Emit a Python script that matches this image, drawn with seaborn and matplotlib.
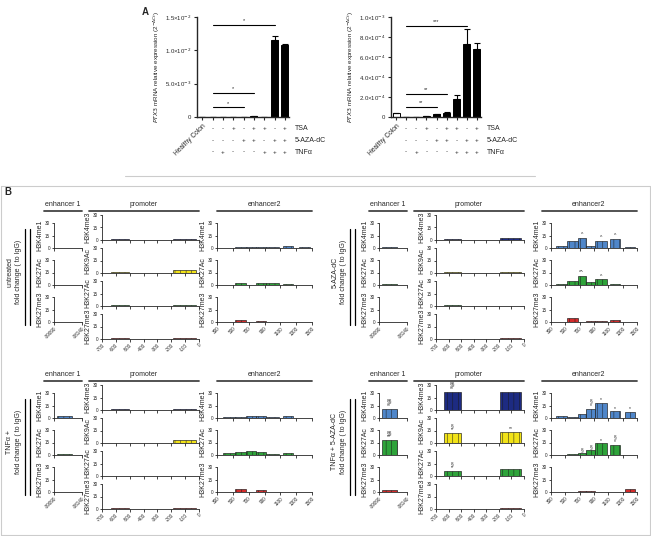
import numpy as np
import pandas as pd
import seaborn as sns
import matplotlib.pyplot as plt
import matplotlib.transforms as mtransforms
from matplotlib.lines import Line2D

sns.set_style('ticks')
plt.rcParams['font.family'] = ['Liberation Sans', 'DejaVu Sans']
plt.rcParams['hatch.linewidth'] = 0.35
plt.rcParams['axes.linewidth'] = 0.6

W, H = 651, 536

# ---------------- panel A data ----------------
groups = ['Healthy Colon', 'ctrl', 'TNFa', 'TSA', 'AZA', 'TSA+AZA', 'TSA+TNFa', 'AZA+TNFa', 'all']
tsa_row = ['-', '-', '+', '-', '+', '+', '-', '+']
aza_row = ['-', '-', '-', '+', '+', '-', '+', '+']
tnf_row = ['-', '+', '-', '-', '-', '+', '+', '+']
row_names = ['TSA', '5-AZA-dC', 'TNFα']

left_vals = [1.0e-5, 2e-5, 3e-5, 2e-5, 6e-5, 8e-5, 4e-5, 1.15e-2, 1.08e-2]
left_err = [0, 0, 0, 0, 0, 0, 0, 0.07e-2, 0.02e-2]
right_vals = [4.0e-5, 0.3e-5, 0.5e-5, 0.6e-5, 3.0e-5, 4.5e-5, 1.77e-4, 7.34e-4, 6.84e-4]
right_err = [0.4e-5, 0, 0, 0, 0.3e-5, 0.3e-5, 0.47e-4, 1.43e-4, 0.6e-4]

sig_left = [(1, 7, 1.38e-2, '*'), (1, 5, 0.365e-2, '*'), (1, 4, 0.146e-2, '*')]
sig_right = [(1, 7, 9.1e-4, '***'), (1, 5, 2.33e-4, '**'), (1, 4, 1.0e-4, '**')]

left_ticks = [0, 5e-3, 1e-2, 1.5e-2]
left_ticklabels = ['0', r'5.0×10$^{-3}$', r'1.0×10$^{-2}$', r'1.5×10$^{-2}$']
right_ticks = [0, 2e-4, 4e-4, 6e-4, 8e-4, 1e-3]
right_ticklabels = ['0', r'2.0×10$^{-4}$', r'4.0×10$^{-4}$', r'6.0×10$^{-4}$',
                    r'8.0×10$^{-4}$', r'1.0×10$^{-3}$']

# ---------------- panel B data ----------------
enh1_marks = ['H3K4me1', 'H3K27Ac', 'H3K27me3']
prom_marks = ['H3K4me3', 'H3K9Ac', 'H3K27Ac', 'H3K27me3']
enh2_marks = ['H3K4me1', 'H3K27Ac', 'H3K27me3']
mark_colors = {'H3K4me1': '#4f86c9', 'H3K4me3': '#1d2b82', 'H3K9Ac': '#f2e318',
               'H3K27Ac': '#2ea33a', 'H3K27me3': '#d42b2b'}

enh1_range = (-39090, -38140)
enh1_left = [-38985]
enh1_right = [-38490]
prom_left = [-635, -190]
prom_right = [-505, -20]
enh2_left = [370, 530, 670, 790, 920, 1130, 1330]
enh2_right = [530, 670, 790, 920, 1080, 1260, 1470]

untreated_enh1 = [0.3, 0.3, 0.2]
untreated_prom = [[1.5, 1.2], [1.0, 4.0], [0.8, 0.8], [1.5, 0.8]]
untreated_enh2 = [[0.5, 1.5, 1.8, 1.5, 0.8, 3.0, 1.5],
                  [0.2, 2.0, 0.3, 2.0, 2.0, 1.2, 0.1],
                  [0.2, 2.5, 0.2, 0.8, 0.3, 0.5, 0.1]]

aza_enh1 = [1.0, 1.0, 0.2]
aza_prom = [[1.0, 2.5], [1.0, 1.5], [1.0, 0.3], [0.5, 1.0]]
aza_enh2 = [[3, 9, 12, 3, 9, 11, 0.7],
            [1, 5, 11, 4, 7, 1.2, 0.3],
            [0.5, 4.5, 0.2, 1.8, 1.8, 2.5, 0.4]]
aza_enh2_sig = [['', '', '^', '', '^', '^', ''],
                ['', '', '^^', '', '^', '', ''],
                [''] * 7]

tnf_enh1 = [2.0, 1.5, 0.2]
tnf_prom = [[0.8, 1.2], [0.3, 4.0], [0.4, 0.5], [0.8, 0.8]]
tnf_enh2 = [[1.8, 0.8, 2.5, 2.5, 1.5, 2.0, 0.2],
            [2.5, 3.5, 4.5, 3.5, 1.5, 2.0, 0.1],
            [0.3, 3.5, 0.5, 2.0, 0.5, 0.3, 0.1]]

combo_enh1 = [11, 18, 3]
combo_enh1_sig = ['§§\n**', '§§\n**', '']
combo_prom = [[22, 22], [12, 13], [6, 9], [0.5, 1.5]]
combo_prom_sig = [['§§\n**', ''], ['§\n*', '**'], ['§\n*', ''], ['', '']]
combo_enh2 = [[3, 1, 5, 11, 18, 8, 7],
              [0.3, 1.0, 2.5, 6, 14, 12.5, 0.5],
              [0.2, 0.5, 1.5, 1.5, 0.3, 0.5, 3.5]]
combo_enh2_sig = [['', '', '', '§\n*', '*', '*', '*'],
                  ['', '', '§', '§', '*', '§\n*', ''],
                  [''] * 7]

fig = plt.figure(figsize=(W / 100, H / 100), dpi=100)


def px_axes(x0, y0, x1, y1):
    return fig.add_axes([x0 / W, 1 - y1 / H, (x1 - x0) / W, (y1 - y0) / H])


def px_text(x, y, s, **kw):
    fig.text(x / W, 1 - y / H, s, **kw)


def px_line(x0, y0, x1, y1, **kw):
    fig.add_artist(Line2D([x0 / W, x1 / W], [1 - y0 / H, 1 - y1 / H],
                          transform=fig.transFigure, **kw))


# ---------------- panel A ----------------
def expression_plot(x0, x1, vals, errs, sigs, ticks, ticklabels):
    ax = px_axes(x0, 17, x1, 117)
    df = pd.DataFrame({'group': groups, 'value': vals})
    colors = {g: ('white' if g == 'Healthy Colon' else 'black') for g in groups}
    sns.barplot(data=df, x='group', y='value', hue='group', palette=colors,
                legend=False, ax=ax, width=0.7, edgecolor='black', linewidth=0.7,
                errorbar=None)
    ax.errorbar(range(len(vals)), vals, yerr=[np.zeros(len(vals)), errs], fmt='none',
                ecolor='black', elinewidth=0.8, capsize=2, capthick=0.8)
    ax.set_xlim(-0.5, 8.4)
    ax.set_ylim(0, ticks[-1])
    ax.set_yticks(ticks)
    ax.set_yticklabels(ticklabels, fontsize=4.3)
    ax.set_xticks(range(len(groups)))
    ax.set_xticklabels(['Healthy Colon'] + [''] * 8, rotation=45, ha='right',
                       rotation_mode='anchor', fontsize=4.8)
    ax.set_xlabel('')
    ax.set_ylabel(r'$\it{PTX3}$ mRNA relative expression (2$^{-\Delta Ct}$)', fontsize=4.5,
                  labelpad=2)
    ax.tick_params(length=2.5, width=0.8, pad=1.5)
    for s in ['left', 'bottom']:
        ax.spines[s].set_linewidth(1.0)
    sns.despine(ax=ax)
    for a, b, y, star in sigs:
        ax.plot([a, b], [y, y], color='black', lw=0.8)
        ax.text((a + b) / 2, y + ticks[-1] * 0.015, star, ha='center', va='bottom',
                fontsize=4)
    trans = mtransforms.blended_transform_factory(ax.transData, ax.transAxes)
    for r, (name, row) in enumerate(zip(row_names, [tsa_row, aza_row, tnf_row])):
        yy = -0.12 - 0.115 * r
        for j, s in enumerate(row):
            ax.text(j + 1, yy, s, transform=trans, ha='center', va='center', fontsize=4.5)
        ax.text(9.0, yy, name, transform=trans, ha='left', va='center', fontsize=5)
    return ax


expression_plot(197, 289, left_vals, left_err, sig_left, left_ticks, left_ticklabels)
expression_plot(391, 481, right_vals, right_err, sig_right, right_ticks, right_ticklabels)
px_text(145, 12, 'A', fontsize=7, fontweight='bold', ha='center', va='center')
px_line(125, 176, 535, 176, color='#cccccc', lw=0.8)


# ---------------- panel B ----------------
def chip_axes(x0, y0, x1, y1, lefts, rights, heights, mark, xlim, xticks,
              xticklabels, bottom, sig=None):
    ax = px_axes(x0, y0, x1, y1)
    widths = [r - l for l, r in zip(lefts, rights)]
    ax.bar(lefts, heights, width=widths, align='edge', color=mark_colors[mark],
           edgecolor='#1a1a1a', linewidth=0.45, hatch='|||')
    ax.set_xlim(*xlim)
    ax.set_ylim(0, 30)
    ax.set_yticks([0, 15, 30])
    ax.set_xticks(xticks)
    ax.set_ylabel(mark, fontsize=5, labelpad=1.5)
    ax.tick_params(length=1.8, width=0.6, labelsize=3.3, pad=1)
    sns.despine(ax=ax)
    if bottom:
        ax.set_xticklabels(xticklabels, rotation=45, ha='right', rotation_mode='anchor')
    else:
        ax.tick_params(labelbottom=False)
    if sig is not None:
        for l, r, h, s in zip(lefts, rights, heights, sig):
            if s:
                ax.text((l + r) / 2, h + 0.8, s, ha='center', va='bottom', fontsize=3.6,
                        linespacing=0.85, clip_on=False)
    return ax


def quadrant(ox, oy, label, e1, pr, e2, e1_sig=None, pr_sig=None, e2_sig=None,
             pr_x0=102, e2_x0=217):
    # region titles
    for cx, lx0, lx1, title in [(63, 44, 82, 'enhancer 1'), (144, 89, 199, 'promoter'),
                                (264, 217, 312, 'enhancer2')]:
        px_text(ox + cx, oy + 205, title, fontsize=5, ha='center', va='center')
        px_line(ox + lx0, oy + 211, ox + lx1, oy + 211, color='#444444', lw=1.3)
    # condition label
    px_text(ox + 14, oy + 272, label + '\nfold change ( to IgG)', fontsize=5,
            rotation=90, ha='center', va='center', linespacing=1.3)
    for lx in (25, 30):
        px_line(ox + lx, oy + 229, ox + lx, oy + 325, color='black', lw=0.9)
    # enhancer 1
    for i, mark in enumerate(enh1_marks):
        top = oy + 223 + 37 * i
        chip_axes(ox + 54, top, ox + 82, top + 25, enh1_left, enh1_right, [e1[i]], mark,
                  enh1_range, list(enh1_range), [str(v) for v in enh1_range], i == 2,
                  None if e1_sig is None else [e1_sig[i]])
    # promoter
    for i, mark in enumerate(prom_marks):
        top = oy + 215 + 33 * i
        ticks = list(range(-700, 1, 100))
        chip_axes(ox + pr_x0, top, ox + 199, top + 25, prom_left, prom_right, pr[i], mark,
                  (-700, 0), ticks, [str(t) for t in ticks], i == 3,
                  None if pr_sig is None else pr_sig[i])
    # enhancer 2
    for i, mark in enumerate(enh2_marks):
        top = oy + 223 + 37 * i
        ticks = list(range(300, 1501, 200))
        chip_axes(ox + e2_x0, top, ox + 312, top + 25, enh2_left, enh2_right, e2[i], mark,
                  (300, 1500), ticks, [str(t) for t in ticks], i == 2,
                  None if e2_sig is None else e2_sig[i])


quadrant(0, 0, 'untreated', untreated_enh1, untreated_prom, untreated_enh2)
quadrant(325, 0, '5-AZA-dC', aza_enh1, aza_prom, aza_enh2, e2_sig=aza_enh2_sig,
         pr_x0=111, e2_x0=226)
quadrant(0, 170, 'TNFα +', tnf_enh1, tnf_prom, tnf_enh2)
quadrant(325, 170, 'TNFα + 5-AZA-dC', combo_enh1, combo_prom, combo_enh2,
         e1_sig=combo_enh1_sig, pr_sig=combo_prom_sig, e2_sig=combo_enh2_sig,
         pr_x0=111, e2_x0=226)

px_text(4, 192, 'B', fontsize=7, fontweight='bold', ha='left', va='center')
px_line(1, 186, 1, 535, color='#cccccc', lw=0.8)
px_line(650, 186, 650, 535, color='#cccccc', lw=0.8)
px_line(1, 535, 650, 535, color='#cccccc', lw=0.8)
px_line(1, 186, 650, 186, color='#cccccc', lw=0.8)

fig.savefig('out.png', dpi=100)
